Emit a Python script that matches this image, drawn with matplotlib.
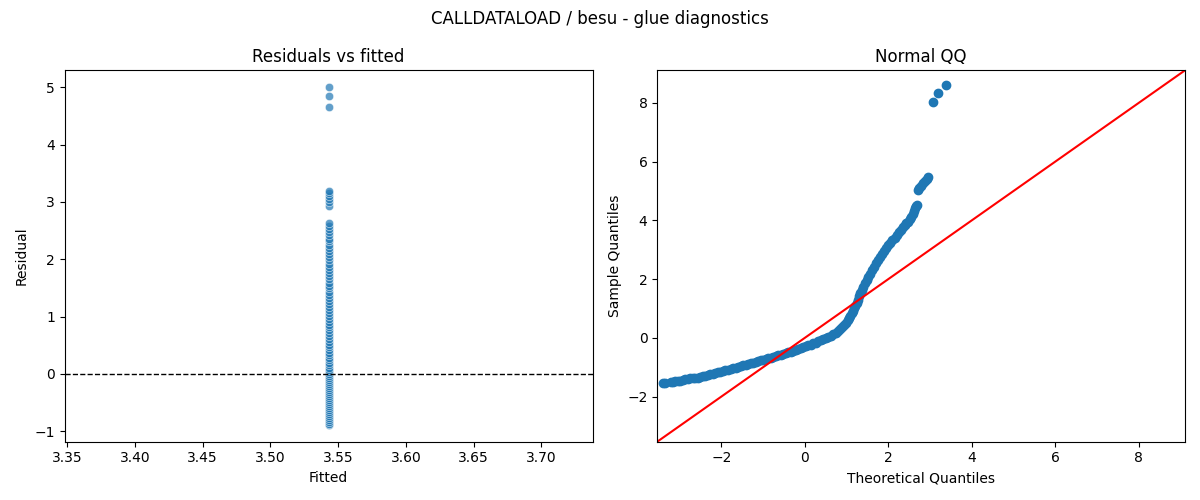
import matplotlib
matplotlib.use("Agg")
import matplotlib.pyplot as plt
import seaborn as sns

TITLE = "CALLDATALOAD / besu - glue diagnostics"
FITTED = 3.543

# residuals (all at one fitted value)
residuals = [
    -0.89, -0.87, -0.84, -0.80, -0.77, -0.73, -0.70, -0.66, -0.63, -0.60,
    -0.56, -0.53, -0.49, -0.46, -0.42, -0.39, -0.35, -0.32, -0.28, -0.25,
    -0.21, -0.18, -0.14, -0.11, -0.07, -0.04, 0.00, 0.03, 0.07, 0.11,
    0.15, 0.19, 0.24, 0.28, 0.33, 0.37, 0.42, 0.46, 0.51, 0.56,
    0.61, 0.66, 0.71, 0.76, 0.81, 0.86, 0.91, 0.96, 1.01, 1.06,
    1.12, 1.17, 1.22, 1.27, 1.33, 1.38, 1.43, 1.49, 1.54, 1.59,
    1.65, 1.70, 1.76, 1.81, 1.87, 1.92, 1.98, 2.03, 2.09, 2.14,
    2.20, 2.25, 2.31, 2.36, 2.42, 2.47, 2.53, 2.58, 2.63,
    2.93, 2.99, 3.05, 3.10, 3.15, 3.19,
    4.66, 4.84, 5.00,
]
fitted = [FITTED] * len(residuals)

qq_theoretical = [
    -3.40, -3.36, -3.20, -3.15, -3.10, -3.04, -2.98, -2.92, -2.86, -2.80,
    -2.74, -2.68, -2.62, -2.56, -2.50, -2.44, -2.38, -2.32, -2.26, -2.20,
    -2.14, -2.08, -2.02, -1.96, -1.90, -1.84, -1.78, -1.72, -1.66, -1.60,
    -1.54, -1.48, -1.42, -1.36, -1.30, -1.24, -1.18, -1.12, -1.06, -1.00,
    -0.94, -0.88, -0.82, -0.76, -0.70, -0.64, -0.58, -0.52, -0.46, -0.40,
    -0.34, -0.28, -0.22, -0.16, -0.10, -0.04, 0.02, 0.08, 0.14, 0.20,
    0.26, 0.32, 0.38, 0.44, 0.50, 0.56, 0.62, 0.68, 0.74, 0.80,
    0.85, 0.90, 0.95, 0.99, 1.03, 1.06, 1.09, 1.12, 1.15, 1.18,
    1.21, 1.24, 1.27, 1.30, 1.33, 1.36, 1.40, 1.44, 1.48, 1.52,
    1.56, 1.60, 1.65, 1.70, 1.75, 1.80, 1.85, 1.90, 1.95, 2.00,
    2.05, 2.10, 2.15, 2.20, 2.25, 2.30, 2.35, 2.39, 2.43, 2.47,
    2.51, 2.55, 2.58, 2.61, 2.63, 2.66, 2.68, 2.71, 2.74, 2.78,
    2.83, 2.88, 2.92, 2.95, 3.07, 3.18, 3.38,
]
qq_sample = [
    -1.54, -1.53, -1.49, -1.49, -1.48, -1.47, -1.46, -1.44, -1.41, -1.39,
    -1.38, -1.37, -1.36, -1.35, -1.33, -1.31, -1.29, -1.27, -1.24, -1.22,
    -1.20, -1.17, -1.15, -1.12, -1.10, -1.08, -1.05, -1.03, -1.01, -0.98,
    -0.96, -0.94, -0.91, -0.89, -0.87, -0.84, -0.82, -0.80, -0.77, -0.75,
    -0.72, -0.70, -0.67, -0.65, -0.62, -0.60, -0.57, -0.55, -0.52, -0.49,
    -0.47, -0.44, -0.41, -0.38, -0.35, -0.32, -0.29, -0.26, -0.23, -0.19,
    -0.16, -0.12, -0.08, -0.04, 0.00, 0.04, 0.08, 0.13, 0.18, 0.24,
    0.30, 0.37, 0.45, 0.52, 0.60, 0.67, 0.75, 0.83, 0.92, 1.01,
    1.10, 1.20, 1.30, 1.41, 1.52, 1.62, 1.74, 1.86, 1.97, 2.08,
    2.19, 2.30, 2.42, 2.54, 2.65, 2.76, 2.86, 2.96, 3.06, 3.15,
    3.24, 3.33, 3.41, 3.50, 3.59, 3.68, 3.77, 3.84, 3.90, 3.96,
    4.04, 4.13, 4.22, 4.33, 4.41, 4.48, 4.53, 5.03, 5.10, 5.18,
    5.26, 5.34, 5.42, 5.47, 8.02, 8.33, 8.60,
]

fig, (ax1, ax2) = plt.subplots(1, 2, figsize=(12, 5), dpi=100)

sns.scatterplot(x=fitted, y=residuals, ax=ax1, alpha=0.7)
ax1.axhline(0, color="black", linestyle="--", linewidth=1)
ax1.set_title("Residuals vs fitted")
ax1.set_xlabel("Fitted")
ax1.set_ylabel("Residual")

ax2.set_xmargin(0.02)
ax2.plot(qq_theoretical, qq_sample, marker="o", markerfacecolor="C0",
         markeredgecolor="C0", linestyle="none")
xl = ax2.get_xlim()
yl = ax2.get_ylim()
end_pts = [min(xl[0], yl[0]), max(xl[1], yl[1])]
ax2.plot(end_pts, end_pts, "r-")
ax2.set_xlim(end_pts)
ax2.set_ylim(end_pts)
ax2.set_title("Normal QQ")
ax2.set_xlabel("Theoretical Quantiles")
ax2.set_ylabel("Sample Quantiles")

fig.suptitle(TITLE)
fig.tight_layout()
fig.savefig("out.png")
